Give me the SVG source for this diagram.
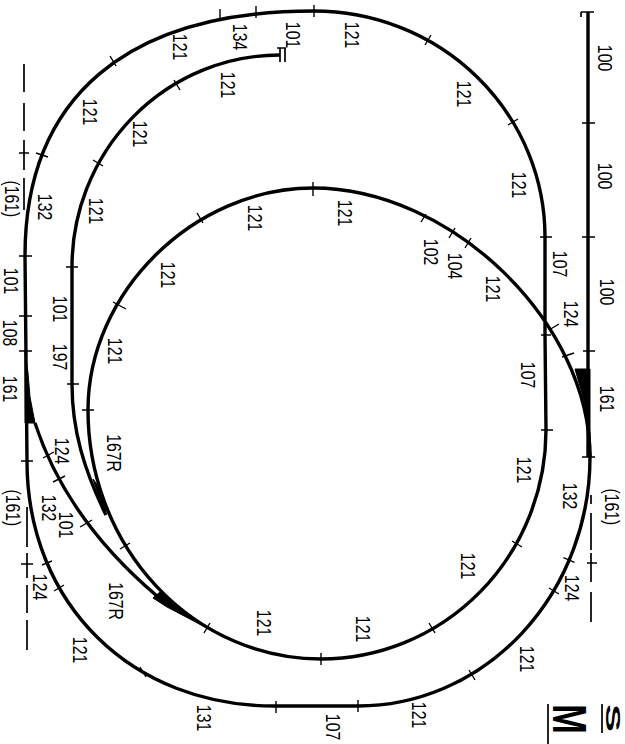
<svg xmlns="http://www.w3.org/2000/svg" width="625" height="744" viewBox="0 0 625 744">
<style>
.t{fill:none;stroke:#000;stroke-width:3.4;stroke-linejoin:round}
.k{fill:none;stroke:#000;stroke-width:1.4}
.d{fill:none;stroke:#000;stroke-width:1.7}
.w{fill:#000;stroke:#000;stroke-width:1}
text{font-family:"Liberation Sans",Arial,sans-serif;font-size:21px;fill:#000;text-anchor:middle}
.b{font-weight:700;font-size:48px;text-anchor:start}
.s{font-weight:700;font-size:20px;text-anchor:start}
</style>
<rect width="625" height="744" fill="#fff"/>
<g id="tracks">
<path class="t" d="M588 12V457"/>
<path class="t" d="M590 457A232 249 0 0 1 358 706H276C132 707 27 604 27 461L25 256C25 97 127 11 314 11A231 226 0 0 1 545 237V335L546 430A225 229 0 0 1 321 659A233 249 0 0 1 88 410C88 292 194 188 313 188C451 188 590 322 590 457"/>
<path class="t" d="M35 423C52 475 85 535 157 596"/>
<path class="t" d="M280 55A208 212 0 0 0 72 267V384C72 430 84 470 106 515"/>
<path class="d" d="M277 48H286M280 48V62M285 48V62"/>
<path class="d" d="M581 12H594M581 12V17"/>
<path class="w" d="M575 369H590V430L591 457L588 417L582 393Z"/>
<path class="w" d="M25 351L28 373L30 397L35 423H25Z"/>
<path class="w" d="M153 598L160 592L207 628L167 607Z"/>
<path class="w" d="M93 479L98 486L106 512L101 503Z"/>
</g>
<g id="ticks" class="k">
<path d="M582 123H595M582 237H595M583 351H595M582 457H595"/>
<path d="M540 237H552M541 335H551M541 430H553"/>
<path d="M549 330L559 324M562 357L574 353"/>
<path d="M563.500 557.700L574.500 562.300M549 588L559 594M469 670L475 680M358 700V712M276 701V713M140 667L146 677M54 591L64 585M42 565L52 561M21 461H33M19 351H32M19 316H32M19 256H32"/>
<path d="M36 153L48 157M110 56L116 66M220 9V21M256 6V18M314 5V17M425 45L431 35M508 125L518 119"/>
<path d="M512 541L522 547M429 623L435 633M321 653V665M204 633L210 623M120 549L130 543M82 410H94M113 302L126 309M197 213L203 223M313 182V196M421 222L426 214M449 238L455 228M465 248L471 238"/>
<path d="M174 80L180 90M93 160L103 166M66 267H78M67 384H79"/>
<path d="M43 458L54 452M53 482L65 476M80 527L92 520"/>
</g>
<g id="dashes" class="d">
<path d="M591 495V504M591 513V550M591 553V582M591 592V622M587 563H597"/>
<path d="M24 64V92M24 103V131M24 140V170M24 178V210M19 153H29"/>
<path d="M27 507V547M27 553V578M27 585V613M27 620V650M21 564H33"/>
</g>
<g id="labels">
<text transform="translate(598 58) rotate(90) scale(.75 1)">100</text>
<text transform="translate(598 176) rotate(90) scale(.75 1)">100</text>
<text transform="translate(600 292) rotate(90) scale(.75 1)">100</text>
<text transform="translate(600 399) rotate(90) scale(.75 1)">161</text>
<text transform="translate(605 507) rotate(90) scale(.75 1)">(161)</text>
<text transform="translate(563 496) rotate(90) scale(.75 1)">132</text>
<text transform="translate(564 314) rotate(90) scale(.75 1)">124</text>
<text transform="translate(553 264) rotate(90) scale(.75 1)">107</text>
<text transform="translate(521 375) rotate(90) scale(.75 1)">107</text>
<text transform="translate(517 470) rotate(90) scale(.75 1)">121</text>
<text transform="translate(486 289) rotate(90) scale(.75 1)">121</text>
<text transform="translate(448 266) rotate(90) scale(.75 1)">104</text>
<text transform="translate(424 252) rotate(90) scale(.75 1)">102</text>
<text transform="translate(457 94) rotate(90) scale(.75 1)">121</text>
<text transform="translate(512 185) rotate(90) scale(.75 1)">121</text>
<text transform="translate(461 566) rotate(90) scale(.75 1)">121</text>
<text transform="translate(565 588) rotate(90) scale(.75 1)">124</text>
<text transform="translate(520 659) rotate(90) scale(.75 1)">121</text>
<text transform="translate(257 623) rotate(90) scale(.75 1)">121</text>
<text transform="translate(356 629) rotate(90) scale(.75 1)">121</text>
<text transform="translate(412 715) rotate(90) scale(.75 1)">121</text>
<text transform="translate(326 727) rotate(90) scale(.75 1)">107</text>
<text transform="translate(197 718) rotate(90) scale(.75 1)">131</text>
<text transform="translate(173 47) rotate(90) scale(.75 1)">121</text>
<text transform="translate(83 112) rotate(90) scale(.75 1)">121</text>
<text transform="translate(133 134) rotate(90) scale(.75 1)">121</text>
<text transform="translate(89 211) rotate(90) scale(.75 1)">121</text>
<text transform="translate(38 207) rotate(90) scale(.75 1)">132</text>
<text transform="translate(5 199) rotate(90) scale(.75 1)">(161)</text>
<text transform="translate(4 281) rotate(90) scale(.75 1)">101</text>
<text transform="translate(3 333) rotate(90) scale(.75 1)">108</text>
<text transform="translate(3 389) rotate(90) scale(.75 1)">161</text>
<text transform="translate(6 508) rotate(90) scale(.75 1)">(161)</text>
<text transform="translate(53 309) rotate(90) scale(.75 1)">101</text>
<text transform="translate(53 357) rotate(90) scale(.75 1)">197</text>
<text transform="translate(108 351) rotate(90) scale(.75 1)">121</text>
<text transform="translate(161 275) rotate(90) scale(.75 1)">121</text>
<text transform="translate(107 453) rotate(90) scale(.75 1)">167R</text>
<text transform="translate(55 451) rotate(90) scale(.75 1)">124</text>
<text transform="translate(42 508) rotate(90) scale(.75 1)">132</text>
<text transform="translate(59 525) rotate(90) scale(.75 1)">101</text>
<text transform="translate(33 587) rotate(90) scale(.75 1)">124</text>
<text transform="translate(109 601) rotate(90) scale(.75 1)">167R</text>
<text transform="translate(73 650) rotate(90) scale(.75 1)">121</text>
<text transform="translate(233 37) rotate(90) scale(.75 1)">134</text>
<text transform="translate(286 35) rotate(90) scale(.75 1)">101</text>
<text transform="translate(345 35) rotate(90) scale(.75 1)">121</text>
<text transform="translate(221 85) rotate(90) scale(.75 1)">121</text>
<text transform="translate(248 218) rotate(90) scale(.75 1)">121</text>
<text transform="translate(338 213) rotate(90) scale(.75 1)">121</text>
<text class="b" transform="translate(553 704) rotate(90) scale(.75 1)">M</text>
<text class="s" transform="translate(606 704) rotate(90) scale(2.1 1)">S</text>
<path class="d" d="M548 704V744M602 704V733"/>
</g>
</svg>
